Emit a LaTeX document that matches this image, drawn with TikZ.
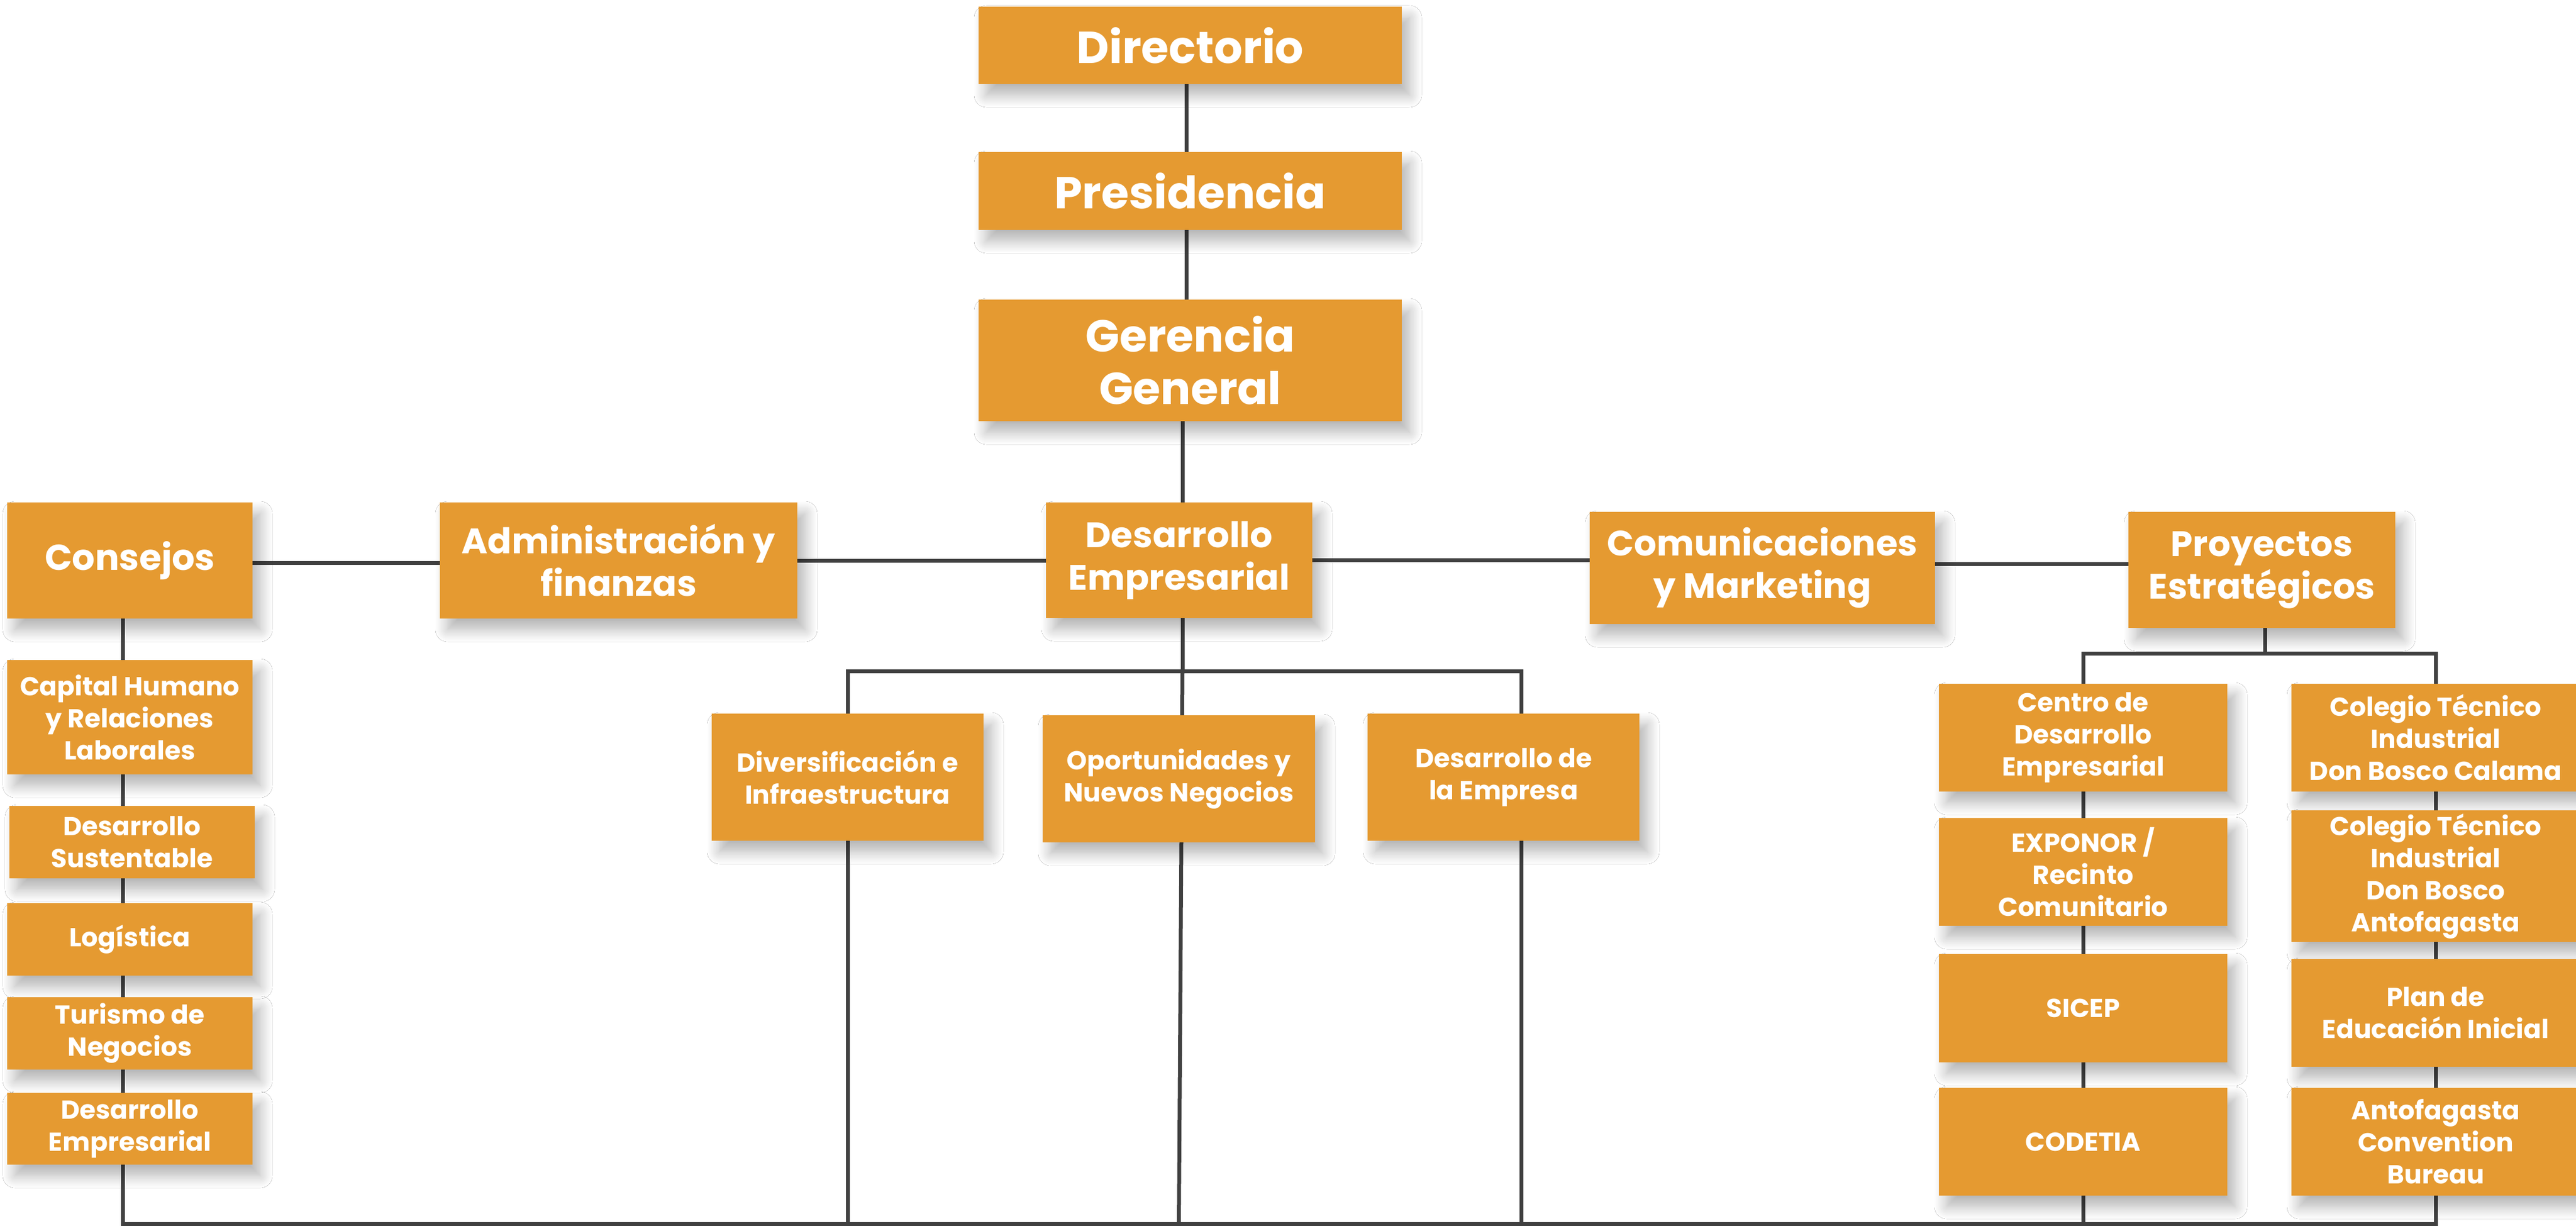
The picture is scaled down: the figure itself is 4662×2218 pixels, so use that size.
\documentclass[tikz,border=0pt]{standalone}
\usepackage{fontspec}
\setmainfont{Poppins}
\usetikzlibrary{shadows.blur,backgrounds,calc}
\definecolor{boxorange}{HTML}{E59A31}
\definecolor{linegray}{HTML}{404040}
\tikzset{
  box/.style={fill=boxorange, text=white, align=center, inner sep=0pt,
    blur shadow={shadow xshift=14pt, shadow yshift=-20pt, shadow blur radius=22pt,
      shadow opacity=30, shadow blur steps=12}},
  topbox/.style={box, font=\bfseries\fontsize{81}{95}\selectfont},
  midbox/.style={box, font=\bfseries\fontsize{64}{77}\selectfont},
  subbox/.style={box, font=\bfseries\fontsize{47}{58}\selectfont},
  sz/.style 2 args={minimum width=#1pt, minimum height=#2pt},
  conn/.style={draw=linegray, line width=7pt, line cap=rect},
}
\begin{document}
\begin{tikzpicture}[x=1pt,y=-1pt]
\useasboundingbox (0,0) rectangle (4662,2218);
% top
\node[topbox, sz={766}{140}] (dir)  at (2154,82)    {Directorio};
\node[topbox, sz={766}{141}] (pres) at (2154,345.5) {Presidencia};
\node[topbox, sz={766}{220}] (ger)  at (2154,652)   {Gerencia\\General};
% row 2
\node[midbox, sz={444}{210}, font=\bfseries\fontsize{65}{78}\selectfont] (cons) at (235,1014) {Consejos};
\node[midbox, sz={647}{210}] (adm)    at (1119.5,1014)  {Administración y\\finanzas};
\node[midbox, sz={482}{209}] (desemp) at (2134,1013.5)  {Desarrollo\\Empresarial};
\node[midbox, sz={625}{203}] (com)    at (3189.5,1027.5){Comunicaciones\\y Marketing};
\node[midbox, sz={483}{210}] (proy)   at (4093.5,1031)  {Proyectos\\Estratégicos};
% consejos column
\node[subbox, sz={444}{207}] (cap) at (235,1297.5) {Capital Humano\\y Relaciones\\Laborales};
\node[subbox, sz={444}{131}] (sus) at (239,1523.5) {Desarrollo\\Sustentable};
\node[subbox, sz={444}{131}] (log) at (235,1699.5) {Logística};
\node[subbox, sz={444}{131}] (tur) at (235,1869.5) {Turismo de\\Negocios};
\node[subbox, sz={444}{130}] (dem) at (235,2042)   {Desarrollo\\Empresarial};
% middle column
\node[subbox, sz={492}{230}] (div) at (1534,1406)   {Diversificación e\\Infraestructura};
\node[subbox, sz={493}{230}] (opo) at (2133.5,1409) {Oportunidades y\\Nuevos Negocios};
\node[subbox, sz={492}{230}] (dde) at (2721,1406)   {Desarrollo de\\la Empresa};
% right columns
\node[subbox, sz={522}{195}] (cen) at (3770,1334.5) {Centro de\\Desarrollo\\Empresarial};
\node[subbox, sz={522}{195}] (exp) at (3770,1577.5) {EXPONOR /\\Recinto\\Comunitario};
\node[subbox, sz={522}{196}] (sic) at (3770,1824)   {SICEP};
\node[subbox, sz={522}{195}] (cod) at (3770,2065.5) {CODETIA};
\node[subbox, sz={522}{195}] (cal) at (4408,1334.5) {Colegio Técnico\\Industrial\\Don Bosco Calama};
\node[subbox, sz={522}{238}] (ant) at (4408,1585)   {Colegio Técnico\\Industrial\\Don Bosco\\Antofagasta};
\node[subbox, sz={522}{195}] (pla) at (4408,1832.5) {Plan de\\Educación Inicial};
\node[subbox, sz={522}{195}] (bur) at (4408,2065.5) {Antofagasta\\Convention\\Bureau};
% connectors
\begin{scope}[on background layer]
\fill[white] (0,0) rectangle (4662,2218);
\coordinate (tA) at (2147,0);
\coordinate (tB) at (2140,0);
\coordinate (dL) at (2753,0);
\coordinate (pL) at (4099,0);
\coordinate (mbus) at (0,1214);
\coordinate (rbus) at (0,1182);
\coordinate (bL) at (222,2214);
\draw[conn] (dir.south -| tA) -- (pres.north -| tA);
\draw[conn] (pres.south -| tA) -- (ger.north -| tA);
\draw[conn] (ger.south -| tB) -- (tB |- mbus);
\draw[conn] ([yshift=-4pt]cons.center) -- ([yshift=-4pt]adm.center);
\draw[conn] (adm.center) -- (adm.center -| desemp.center);
\draw[conn] (desemp.center) -- (desemp.center -| com.center);
\draw[conn] ([yshift=7.5pt]com.center) -- ([yshift=11pt]proy.center);
% consejos column and bottom bus
\draw[conn] (cons.center -| bL) -- (bL) -- (cal.center |- bL) -- (cal.center |- rbus) -- (cen.center |- rbus) -- (cen.center |- bL);
% middle
\draw[conn] (div.center |- mbus) -- (dL |- mbus);
\draw[conn] (div.center |- mbus) -- (div.center |- bL);
\draw[conn] (tB |- mbus) -- (opo.center |- bL);
\draw[conn] (dL |- mbus) -- (dL |- bL);
% proyectos
\draw[conn] (proy.center -| pL) -- (pL |- rbus);
\end{scope}
\end{tikzpicture}
\end{document}
